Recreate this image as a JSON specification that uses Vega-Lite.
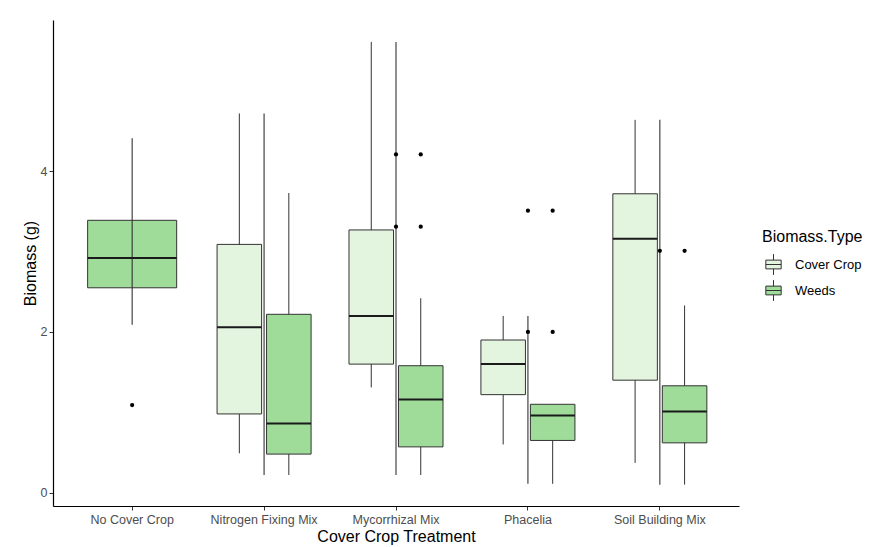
{
  "$schema": "https://vega.github.io/schema/vega-lite/v6.json",
  "width": 686,
  "height": 486,
  "autosize": {"type": "none"},
  "padding": {"left": 53, "top": 20, "right": 132, "bottom": 41},
  "background": "white",
  "config": {
    "font": "Liberation Sans",
    "view": {"stroke": null},
    "axis": {
      "grid": false,
      "domainColor": "#000000",
      "domainWidth": 1.2,
      "tickColor": "#333333",
      "tickWidth": 1,
      "tickSize": 4,
      "labelColor": "#4d4d4d",
      "labelFontSize": 12.5,
      "labelFont": "Liberation Sans",
      "titleFont": "Liberation Sans",
      "titleFontSize": 16,
      "titleFontWeight": "normal",
      "titleColor": "#000000"
    },
    "legend": {
      "titleFont": "Liberation Sans",
      "titleFontSize": 16,
      "titleFontWeight": "normal",
      "titleColor": "#000000",
      "labelFont": "Liberation Sans",
      "labelFontSize": 13,
      "labelColor": "#000000"
    }
  },
  "datasets": {
    "boxes": [
      {"trt": "No Cover Crop", "type": "Weeds", "lower": 2.09, "q1": 2.55, "median": 2.92, "q3": 3.39, "upper": 4.41},
      {"trt": "Nitrogen Fixing Mix", "type": "Cover Crop", "lower": 0.49, "q1": 0.98, "median": 2.06, "q3": 3.09, "upper": 4.72},
      {"trt": "Nitrogen Fixing Mix", "type": "Weeds", "lower": 0.22, "q1": 0.48, "median": 0.86, "q3": 2.22, "upper": 3.73},
      {"trt": "Mycorrhizal Mix", "type": "Cover Crop", "lower": 1.31, "q1": 1.6, "median": 2.2, "q3": 3.27, "upper": 5.61},
      {"trt": "Mycorrhizal Mix", "type": "Weeds", "lower": 0.22, "q1": 0.57, "median": 1.16, "q3": 1.58, "upper": 2.42},
      {"trt": "Phacelia", "type": "Cover Crop", "lower": 0.6, "q1": 1.22, "median": 1.6, "q3": 1.9, "upper": 2.2},
      {"trt": "Phacelia", "type": "Weeds", "lower": 0.11, "q1": 0.65, "median": 0.96, "q3": 1.1, "upper": 1.1},
      {"trt": "Soil Building Mix", "type": "Cover Crop", "lower": 0.37, "q1": 1.4, "median": 3.16, "q3": 3.72, "upper": 4.64},
      {"trt": "Soil Building Mix", "type": "Weeds", "lower": 0.1, "q1": 0.62, "median": 1.01, "q3": 1.33, "upper": 2.33}
    ],
    "outliers": [
      {"trt": "No Cover Crop", "type": "Weeds", "value": 1.09},
      {"trt": "Mycorrhizal Mix", "type": "Weeds", "value": 4.21},
      {"trt": "Mycorrhizal Mix", "type": "Weeds", "value": 3.31},
      {"trt": "Phacelia", "type": "Weeds", "value": 3.51},
      {"trt": "Phacelia", "type": "Weeds", "value": 2.0},
      {"trt": "Soil Building Mix", "type": "Weeds", "value": 3.01}
    ]
  },
  "encoding": {
    "x": {
      "field": "trt",
      "type": "nominal",
      "sort": ["No Cover Crop", "Nitrogen Fixing Mix", "Mycorrhizal Mix", "Phacelia", "Soil Building Mix"],
      "scale": {"paddingInner": 0, "paddingOuter": 0.1},
      "axis": {"title": "Cover Crop Treatment", "labelAngle": 0, "labelPadding": 3, "titlePadding": 3}
    }
  },
  "resolve": {"scale": {"xOffset": "shared"}},
  "layer": [
    {
      "data": {"name": "boxes"},
      "transform": [{"filter": "datum.trt !== 'No Cover Crop'"}],
      "mark": {"type": "rule", "color": "#333333", "strokeWidth": 1},
      "encoding": {
        "xOffset": {"field": "type", "type": "nominal", "scale": {"domain": ["Cover Crop", "Weeds"], "paddingInner": 0.1, "paddingOuter": 0.383}},
        "y": {
          "field": "lower",
          "type": "quantitative",
          "scale": {"domain": [-0.166, 5.883], "nice": false, "zero": false},
          "axis": {"title": "Biomass (g)", "values": [0, 2, 4], "format": "d", "labelPadding": 2, "titlePadding": 2}
        },
        "y2": {"field": "upper"}
      }
    },
    {
      "data": {"name": "boxes"},
      "transform": [{"filter": "datum.trt !== 'No Cover Crop'"}],
      "mark": {"type": "bar", "stroke": "#333333", "strokeWidth": 1, "opacity": 1},
      "encoding": {
        "xOffset": {"field": "type", "type": "nominal"},
        "y": {"field": "q1", "type": "quantitative"},
        "y2": {"field": "q3"},
        "fill": {
          "field": "type",
          "type": "nominal",
          "title": "Biomass.Type",
          "scale": {"domain": ["Cover Crop", "Weeds"], "range": ["#e4f5df", "#9fdc9a"]},
          "legend": {
            "orient": "none",
            "legendX": 709,
            "legendY": 209,
            "symbolType": "M-0.7,-0.4H0.7V0.4H-0.7Z M0,-0.4V-0.95 M0,0.4V0.95 M-0.7,0H0.7",
            "symbolSize": 480,
            "symbolStrokeColor": "#4d4d4d",
            "symbolStrokeWidth": 1,
            "symbolOpacity": 1,
            "titlePadding": 8,
            "rowPadding": 1,
            "labelOffset": 10
          }
        }
      }
    },
    {
      "data": {"name": "boxes"},
      "transform": [{"filter": "datum.trt === 'No Cover Crop'"}],
      "mark": {"type": "bar", "stroke": "#333333", "strokeWidth": 1, "opacity": 1, "width": {"band": 0.675}},
      "encoding": {
        "y": {"field": "q1", "type": "quantitative"},
        "y2": {"field": "q3"},
        "fill": {"field": "type", "type": "nominal"}
      }
    },
    {
      "data": {"name": "boxes"},
      "transform": [{"aggregate": [{"op": "min", "field": "lower", "as": "lo"}, {"op": "max", "field": "upper", "as": "hi"}], "groupby": ["trt"]}],
      "mark": {"type": "rule", "color": "#333333", "strokeWidth": 1.1},
      "encoding": {
        "y": {"field": "lo", "type": "quantitative"},
        "y2": {"field": "hi"}
      }
    },
    {
      "data": {"name": "boxes"},
      "transform": [{"filter": "datum.trt !== 'No Cover Crop'"}],
      "mark": {"type": "bar", "fill": null, "fillOpacity": 0, "stroke": "#1a1a1a", "strokeWidth": 2},
      "encoding": {
        "xOffset": {"field": "type", "type": "nominal"},
        "y": {"field": "median", "type": "quantitative"},
        "y2": {"field": "median"}
      }
    },
    {
      "data": {"name": "boxes"},
      "transform": [{"filter": "datum.trt === 'No Cover Crop'"}],
      "mark": {"type": "bar", "fill": null, "fillOpacity": 0, "stroke": "#1a1a1a", "strokeWidth": 2, "width": {"band": 0.675}},
      "encoding": {
        "y": {"field": "median", "type": "quantitative"},
        "y2": {"field": "median"}
      }
    },
    {
      "data": {"name": "outliers"},
      "transform": [{"filter": "datum.trt !== 'No Cover Crop'"}],
      "mark": {"type": "point", "filled": true, "color": "#000000", "size": 18, "opacity": 1},
      "encoding": {
        "xOffset": {"field": "type", "type": "nominal"},
        "y": {"field": "value", "type": "quantitative"}
      }
    },
    {
      "data": {"name": "outliers"},
      "mark": {"type": "point", "filled": true, "color": "#000000", "size": 18, "opacity": 1},
      "encoding": {
        "y": {"field": "value", "type": "quantitative"}
      }
    }
  ]
}
